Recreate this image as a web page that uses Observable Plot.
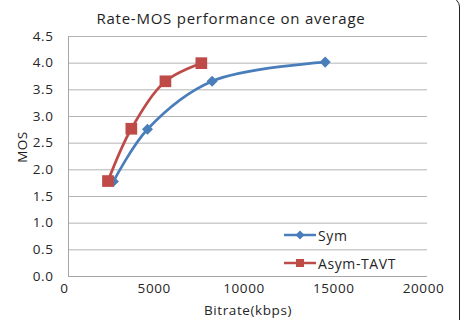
<!DOCTYPE html>
<html>
<head>
<meta charset="utf-8">
<script src="https://cdn.jsdelivr.net/npm/d3@7"></script>
<script src="https://cdn.jsdelivr.net/npm/@observablehq/plot@0.6"></script>
<style>
  html, body { margin: 0; padding: 0; background: #fff; }
  #chart { position: relative; width: 465px; height: 320px; overflow: hidden; font-family: "Open Sans", sans-serif; color: #262626; }
  #frame { position: absolute; left: -6px; top: -3px; width: 466px; height: 340px; border: 1.5px solid #222; border-radius: 10px; box-sizing: border-box; pointer-events: none; }
  #title { position: absolute; left: 0; top: 8px; width: 462px; text-align: center; font-size: 15px; letter-spacing: 0.75px; color: #1e1e1e; }
  #ylabel { position: absolute; left: 22px; top: 147px; transform: translate(-50%, -50%) rotate(-90deg); font-size: 13.5px; letter-spacing: 0.5px; color: #1e1e1e; white-space: nowrap; }
  #legend { position: absolute; left: 284px; top: 221px; font-size: 14px; letter-spacing: 0.6px; color: #262626; }
  #legend .row { display: flex; align-items: center; height: 28px; }
  #legend svg { margin-right: 2px; }
  svg { overflow: visible; }
</style>
</head>
<body>
<div id="chart">
  <div id="title"></div>
  <div id="ylabel"></div>
  <div id="legend"></div>
  <div id="frame"></div>
</div>
<script>
// Chart text
const title = "Rate-MOS performance on average";
const xLabel = "Bitrate(kbps)";
const yLabel = "MOS";

// Series: bitrate (kbps) and mean opinion score
const seriesNames = ["Sym", "Asym-TAVT"];
const symBitrate = [2500, 4400, 8000, 14300];
const symMos = [1.78, 2.76, 3.66, 4.02];
const asymBitrate = [2200, 3500, 5400, 7400];
const asymMos = [1.79, 2.77, 3.66, 4.00];

// Axis ticks
const xTicks = [0, 5000, 10000, 15000, 20000];
const yTicks = [0, 0.5, 1.0, 1.5, 2.0, 2.5, 3.0, 3.5, 4.0, 4.5];

const colors = ["#4a7ebb", "#be4b48"];

const sym = symBitrate.map((x, i) => ({x, y: symMos[i]}));
const asym = asymBitrate.map((x, i) => ({x, y: asymMos[i]}));

const plot = Plot.plot({
  width: 465,
  height: 320,
  marginLeft: 68,
  marginRight: 38,
  marginTop: 36,
  marginBottom: 44,
  style: {fontFamily: "Open Sans, sans-serif", fontSize: "13.5px", color: "#262626", background: "transparent", letterSpacing: "0.6px"},
  x: {domain: [0, 20000]},
  y: {domain: [0, 4.5]},
  marks: [
    Plot.gridY(yTicks, {stroke: "#b4b4b4", strokeOpacity: 1, strokeWidth: 1}),
    Plot.ruleX([0], {stroke: "#a6a6a6", strokeWidth: 1}),
    Plot.ruleY([0], {stroke: "#a6a6a6", strokeWidth: 1}),
    Plot.axisY({ticks: yTicks, tickFormat: d => d.toFixed(1), tickSize: 0, tickPadding: 15,
      label: null, fontSize: 13.5}),
    Plot.axisX({ticks: xTicks, tickFormat: d3.format("d"), tickSize: 0, tickPadding: 7, dx: -4,
      label: xLabel, labelAnchor: "center", labelOffset: 38, labelArrow: "none", fontSize: 13.5}),
    Plot.line(sym, {x: "x", y: "y", stroke: colors[0], strokeWidth: 2.7, curve: "catmull-rom"}),
    Plot.dot(sym, {x: "x", y: "y", symbol: "diamond2", r: 5, fill: colors[0], stroke: "none"}),
    Plot.line(asym, {x: "x", y: "y", stroke: colors[1], strokeWidth: 2.7, curve: "catmull-rom"}),
    Plot.dot(asym, {x: "x", y: "y", symbol: "square", r: 6.6, fill: colors[1], stroke: "none"})
  ]
});

const chart = document.getElementById("chart");
chart.insertBefore(plot, chart.firstChild);
plot.style.position = "absolute";
plot.style.left = "0";
plot.style.top = "0";

document.getElementById("title").textContent = title;
document.getElementById("ylabel").textContent = yLabel;

// Legend: line with marker, then the series name
const legend = document.getElementById("legend");
const glyphs = [
  `<path d="M16 1.5 L20.5 6 L16 10.5 L11.5 6 Z" fill="${colors[0]}"/>`,
  `<rect x="12" y="2" width="8" height="8" fill="${colors[1]}"/>`
];
seriesNames.forEach((name, i) => {
  const row = document.createElement("div");
  row.className = "row";
  row.innerHTML = `<svg width="32" height="12"><line x1="0" x2="32" y1="6" y2="6" stroke="${colors[i]}" stroke-width="2.5"/>${glyphs[i]}</svg><span>${name}</span>`;
  legend.appendChild(row);
});
</script>
</body>
</html>
